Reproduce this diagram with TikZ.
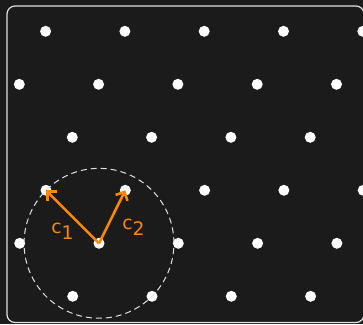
\documentclass[tikz,border=0pt]{standalone}
\usepackage{fontspec}
\newfontfamily\lblfont{DejaVu Sans}
\usetikzlibrary{arrows.meta}
\definecolor{bg}{RGB}{27,27,27}
\definecolor{vecorange}{RGB}{255,136,0}
\definecolor{rim}{RGB}{225,225,225}
\begin{document}
\begin{tikzpicture}[x=0.75pt,y=-0.75pt,
  latdot/.style={circle,fill=white,inner sep=0pt,minimum size=8.25pt},
  vec/.style={draw=vecorange,line width=1.9pt,-{Straight Barb[length=5pt,width=10pt]}},
  veclabel/.style={text=vecorange,font=\lblfont\fontsize{14}{16}\selectfont,inner sep=0pt,anchor=base west},
  frame/.style={draw=rim,line width=0.9pt,rounded corners=6pt},
  ring/.style={draw=rim,line width=0.75pt,dash pattern=on 4.5pt off 3pt}]
\useasboundingbox (0,0) rectangle (363,324);
\fill[bg] (0,0) rectangle (363,324);
\begin{scope}
\clip (0,0) rectangle (363,324);
\draw[frame] (7,6) rectangle (364,322.5);
\foreach \r in {0,...,5}{
  \foreach \c in {0,...,7}{
    \pgfmathsetmacro\px{99+26.3*(\r-1)+79.3*(\c-4)}
    \pgfmathsetmacro\py{243.3-53*(\r-1)}
    \node[latdot] (p\r\c) at (\px,\py) {};
  }
}
\end{scope}
\draw[ring] (p14.center) circle[radius=56.2pt];
\draw[vec] (p14.center) -- (p23.center);
\draw[vec] (p14.center) -- (p24.center);
\node[veclabel] (l1) at (51,233) {c\raisebox{-4.5pt}{1}};
\node[veclabel] (l2) at (122,229) {c\raisebox{-4.5pt}{2}};
\end{tikzpicture}
\end{document}
